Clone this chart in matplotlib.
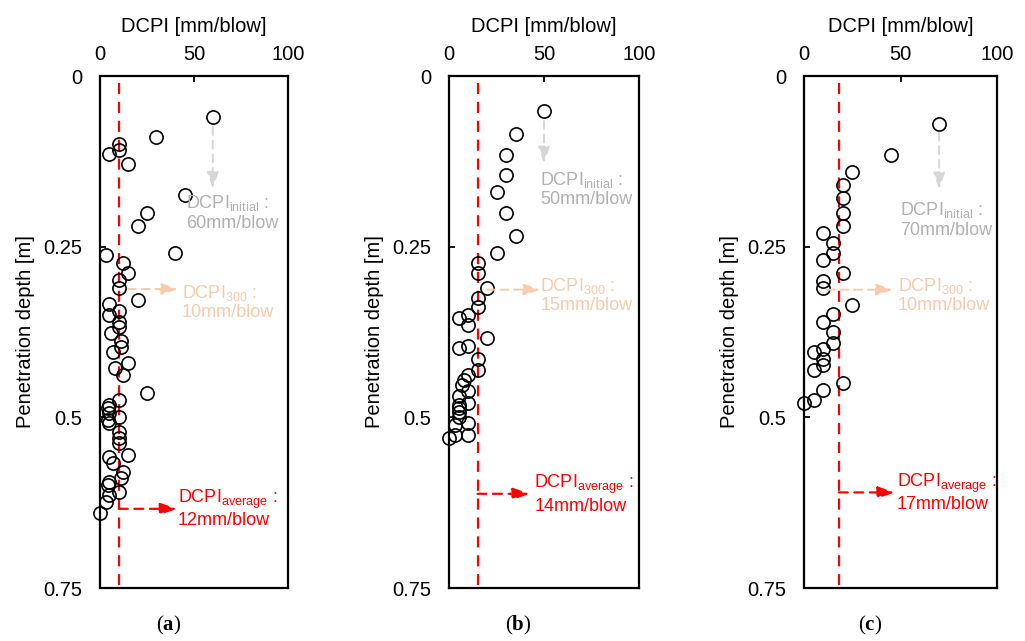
import matplotlib.pyplot as plt
import numpy as np

plt.rcParams['font.family'] = ['Liberation Sans', 'DejaVu Sans']
plt.rcParams['mathtext.fontset'] = 'custom'
plt.rcParams['mathtext.rm'] = 'Liberation Sans'
plt.rcParams['mathtext.bf'] = 'Liberation Serif:bold'

# DCPI [mm/blow] vs penetration depth [m]
dcpi_a = [60, 30, 10, 10, 5, 15, 45, 25, 20, 40, 3, 12, 15, 10, 10, 20, 5, 10, 5, 10,
          10, 6, 11, 11, 7, 15, 8, 12, 25, 10, 5, 4, 5, 10, 4, 5, 10, 10, 10, 15,
          5, 7, 12, 11, 5, 4, 10, 5, 3, 0]
depth_a = [0.060, 0.090, 0.100, 0.108, 0.114, 0.129, 0.174, 0.200, 0.219, 0.260,
           0.262, 0.274, 0.289, 0.299, 0.310, 0.328, 0.334, 0.344, 0.350, 0.360,
           0.367, 0.377, 0.388, 0.397, 0.404, 0.420, 0.428, 0.438, 0.465, 0.475,
           0.482, 0.487, 0.494, 0.500, 0.504, 0.509, 0.521, 0.531, 0.538, 0.555,
           0.558, 0.567, 0.580, 0.589, 0.594, 0.599, 0.609, 0.614, 0.624, 0.640]

dcpi_b = [50, 35, 30, 30, 25, 30, 35, 25, 15, 15, 20, 15, 15, 10, 5, 10, 20, 10, 5,
          15, 15, 10, 8, 7, 10, 5, 10, 5, 5, 5, 5, 10, 3, 10, 3, 0]
depth_b = [0.051, 0.085, 0.116, 0.145, 0.170, 0.200, 0.234, 0.260, 0.274, 0.289,
           0.310, 0.325, 0.339, 0.350, 0.355, 0.365, 0.384, 0.395, 0.399, 0.415,
           0.430, 0.438, 0.445, 0.453, 0.462, 0.469, 0.479, 0.482, 0.487, 0.492,
           0.499, 0.509, 0.511, 0.526, 0.526, 0.531]

dcpi_c = [70, 45, 25, 20, 20, 20, 20, 10, 15, 15, 10, 20, 10, 10, 25, 15, 10, 15,
          15, 10, 5, 10, 10, 5, 20, 10, 5, 0]
depth_c = [0.070, 0.115, 0.140, 0.160, 0.179, 0.200, 0.219, 0.230, 0.244, 0.260,
           0.270, 0.289, 0.300, 0.310, 0.335, 0.349, 0.360, 0.375, 0.391, 0.400,
           0.405, 0.414, 0.423, 0.430, 0.449, 0.460, 0.475, 0.479]

avg_line = [10, 15, 18]
initial_txt = ['60mm/blow', '50mm/blow', '70mm/blow']
d300_txt = ['10mm/blow', '15mm/blow', '10mm/blow']
avg_txt = ['12mm/blow', '14mm/blow', '17mm/blow']
panel_tags = ['a', 'b', 'c']

# annotation layout per panel
init_pos = [(60, 0.075, 0.165, 46, 0.200), (50, 0.066, 0.128, 48, 0.166), (70, 0.083, 0.166, 50, 0.210)]
d300_pos = [(15, 41.5, 0.312, 43.5, 0.323), (20, 48, 0.313, 48, 0.313), (12, 46, 0.313, 48.5, 0.313)]
avg_pos = [(41, 0.634, 41.5, 0.633), (42.5, 0.612, 45, 0.612), (47, 0.610, 48, 0.610)]

data = [(dcpi_a, depth_a), (dcpi_b, depth_b), (dcpi_c, depth_c)]
ax_rects = [(100, 188), (449, 190), (804, 193)]
tag_x = [169, 518, 870]

fig = plt.figure(figsize=(10.25, 6.41), dpi=100)
W, H = 1025, 641
gray_t, gray_a = '#b0b0b0', '#d6d6d6'
peach = '#f8cbad'
red = '#ff0000'
head = '-|>,head_length=1.0,head_width=0.35'

for i in range(3):
    left, width = ax_rects[i]
    ax = fig.add_axes([left / W, (H - 588) / H, width / W, 512 / H])
    x, y = data[i]
    ax.plot(x, y, 'o', mfc='none', mec='black', ms=9.5, mew=1.2, clip_on=False, zorder=3)
    ax.set_xlim(0, 100)
    ax.set_ylim(0.75, 0)
    ax.set_xticks([0, 50, 100])
    ax.set_yticks([0, 0.25, 0.5, 0.75])
    ax.set_yticklabels(['0', '0.25', '0.5', '0.75'])
    ax.xaxis.tick_top()
    ax.xaxis.set_label_position('top')
    ax.tick_params(direction='in', length=4, width=1.3, labelsize=14.5, pad=9)
    ax.tick_params(axis='y', pad=13)
    for s in ax.spines.values():
        s.set_linewidth(1.6)
    ax.set_xlabel('DCPI [mm/blow]', fontsize=14.5, labelpad=9)
    ax.set_ylabel('Penetration depth [m]', fontsize=14.5, labelpad=6)

    # average line
    ax.plot([avg_line[i], avg_line[i]], [0.01, 0.745], color=red, lw=1.6, ls=(0, (5, 3.5)))

    # initial
    ax0, y0, y1, tx, ty = init_pos[i]
    ax.annotate('', xy=(ax0, y1), xytext=(ax0, y0),
                arrowprops=dict(arrowstyle=head, color=gray_a,
                                lw=1.4, ls=(0, (4, 3)), shrinkA=0, shrinkB=0))
    ax.text(tx, ty, 'DCPI$_{\\mathrm{initial}}$ :\n' + initial_txt[i], color=gray_t,
            fontsize=13, ha='left', va='center', linespacing=1.1)

    # 300
    x0, x1, ay, tx, ty = d300_pos[i]
    ax.annotate('', xy=(x1, ay), xytext=(x0, ay),
                arrowprops=dict(arrowstyle=head, color=peach,
                                lw=1.4, ls=(0, (4, 3)), shrinkA=0, shrinkB=0))
    ax.text(tx, ty + 0.008, 'DCPI$_{300}$ :\n' + d300_txt[i], color=peach,
            fontsize=13, ha='left', va='center', linespacing=1.1)

    # average
    x1, ay, tx, ty = avg_pos[i]
    ax.annotate('', xy=(x1, ay), xytext=(avg_line[i], ay),
                arrowprops=dict(arrowstyle=head, color=red,
                                lw=1.6, ls=(0, (4, 3)), shrinkA=0, shrinkB=0))
    ax.text(tx, ty, 'DCPI$_{\\mathrm{average}}$ :\n' + avg_txt[i], color=red,
            fontsize=13, ha='left', va='center', linespacing=1.1)

    fig.text(tag_x[i] / W, 1 - 625 / H, '($\\mathbf{' + panel_tags[i] + '}$)',
             family='Liberation Serif', fontsize=15, ha='center', va='center')

fig.savefig('out.png', dpi=100)
